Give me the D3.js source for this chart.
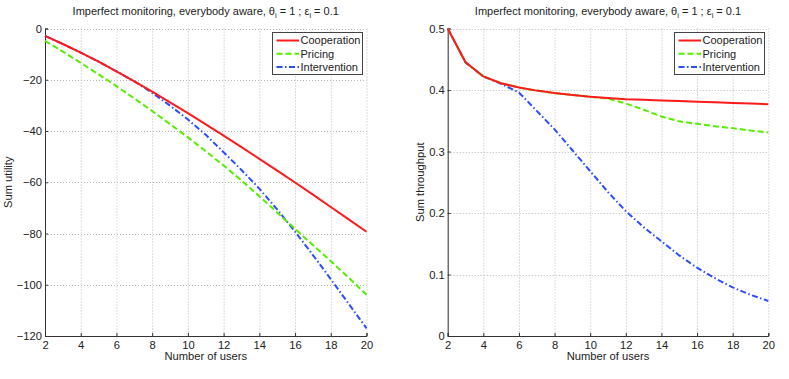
<!DOCTYPE html>
<html>
<head>
<meta charset="utf-8">
<script src="https://cdn.jsdelivr.net/npm/d3@7"></script>
<style>
  body { margin: 0; background: #fff; }
  svg { display: block; font-family: "Liberation Sans", Arial, Helvetica, sans-serif; }
</style>
</head>
<body>
<svg id="chart" width="789" height="379"></svg>
<script>
// values, one point per number of users
const users = [2, 3, 4, 5, 6, 7, 8, 9, 10, 11, 12, 13, 14, 15, 16, 17, 18, 19, 20]

const coopUtility = [-2.9, -6.05, -9.4, -12.95, -16.7, -20.6, -24.65, -28.8, -33.05, -37.4,
    -41.8, -46.3, -50.85, -55.45, -60.1, -64.85, -69.65, -74.5, -79.3]
const pricingUtility = [-4.8, -9.0, -13.4, -17.9, -22.5, -27.3, -32.2, -37.3, -42.5, -47.9,
    -53.5, -59.3, -65.5, -71.8, -78.2, -84.5, -90.8, -97.2, -103.9]
const interventionUtility = [-2.9, -6.05, -9.4, -12.95, -16.7, -20.6, -25.1, -30.1, -35.5, -41.5,
    -48.3, -55.2, -62.5, -70.6, -79.3, -88.4, -97.8, -107.4, -117.0]

const coopThroughput = [0.5, 0.445, 0.422, 0.411, 0.404, 0.399, 0.395, 0.392, 0.389, 0.387,
    0.385, 0.384, 0.383, 0.382, 0.381, 0.380, 0.379, 0.378, 0.377]
const pricingThroughput = [0.5, 0.445, 0.422, 0.411, 0.404, 0.399, 0.395, 0.392, 0.389, 0.386,
    0.378, 0.368, 0.357, 0.349, 0.345, 0.341, 0.338, 0.334, 0.331]
const interventionThroughput = [0.5, 0.445, 0.422, 0.410, 0.396, 0.366, 0.336, 0.302, 0.268, 0.234,
    0.203, 0.177, 0.154, 0.131, 0.111, 0.094, 0.079, 0.067, 0.057]

const seriesNames = ["Cooperation", "Pricing", "Intervention"]
const xTicks = [2, 4, 6, 8, 10, 12, 14, 16, 18, 20]
const utilityTicks = [0, -20, -40, -60, -80, -100, -120]
const throughputTicks = [0, 0.1, 0.2, 0.3, 0.4, 0.5]

const styles = [
    {color: "#ff1a1a", dash: null},
    {color: "#55ee00", dash: "6,3"},
    {color: "#2a4dff", dash: "6,2.5,1.5,2.5"},
]

const plotTop = 28.5
const plotBottom = 336

const svg = d3.select("#chart")

function drawPanel(opts) {
    let x = d3.scaleLinear().domain([2, 20]).range([opts.left, opts.right])
    let y = d3.scaleLinear().domain(opts.yDomain).range([plotBottom, plotTop])
    let g = svg.append("g")

    // dotted grid, which also closes the box on top and right
    g.append("g")
        .selectAll("line")
        .data(xTicks)
        .join("line")
            .attr("x1", d => x(d) + 0.5)
            .attr("x2", d => x(d) + 0.5)
            .attr("y1", plotTop)
            .attr("y2", plotBottom)
            .attr("stroke", "#b8b8b8")
            .attr("stroke-dasharray", "1,2")
    g.append("g")
        .selectAll("line")
        .data(opts.yTicks)
        .join("line")
            .attr("x1", opts.left)
            .attr("x2", opts.right)
            .attr("y1", d => Math.round(y(d)) + 0.5)
            .attr("y2", d => Math.round(y(d)) + 0.5)
            .attr("stroke", "#b8b8b8")
            .attr("stroke-dasharray", "1,2")

    let xAxis = g.append("g")
        .attr("transform", `translate(0,${plotBottom})`)
        .call(d3.axisBottom(x).tickValues(xTicks).tickSize(-3).tickPadding(5).tickFormat(d3.format("d")))
    let yAxis = g.append("g")
        .attr("transform", `translate(${opts.left},0)`)
        .call(d3.axisLeft(y).tickValues(opts.yTicks).tickSize(-3).tickPadding(3).tickFormat(opts.format))
    for (let ax of [xAxis, yAxis]) {
        ax.select(".domain").attr("stroke", "#333")
        ax.selectAll(".tick line").attr("stroke", "#333")
        ax.selectAll("text").attr("font-size", 11.2).attr("fill", "#222")
        ax.attr("font-family", null)
    }

    let line = d3.line()
        .x((d, i) => x(users[i]))
        .y(d => y(d))
    // draw intervention first so the other two sit on top where they overlap
    let order = [2, 1, 0]
    for (let k of order) {
        g.append("path")
            .datum(opts.series[k])
            .attr("fill", "none")
            .attr("stroke", styles[k].color)
            .attr("stroke-width", 2)
            .attr("stroke-dasharray", styles[k].dash)
            .attr("d", line)
    }

    // title with subscripts
    let title = g.append("text")
        .attr("x", (opts.left + opts.right) / 2)
        .attr("y", 15)
        .attr("text-anchor", "middle")
        .attr("font-size", 11)
        .attr("fill", "#222")
    title.append("tspan").text("Imperfect monitoring, everybody aware, \u03b8")
    title.append("tspan").attr("font-size", 7.5).attr("dy", 3).text("i")
    title.append("tspan").attr("dy", -3).text(" = 1 ; \u03b5")
    title.append("tspan").attr("font-size", 7.5).attr("dy", 3).text("i")
    title.append("tspan").attr("dy", -3).text(" = 0.1")

    g.append("text")
        .attr("x", (opts.left + opts.right) / 2)
        .attr("y", 360)
        .attr("text-anchor", "middle")
        .attr("font-size", 11.2)
        .attr("fill", "#222")
        .text("Number of users")
    g.append("text")
        .attr("transform", `translate(${opts.labelX},${(plotTop + plotBottom) / 2}) rotate(-90)`)
        .attr("text-anchor", "middle")
        .attr("font-size", 11.2)
        .attr("fill", "#222")
        .text(opts.yLabel)

    // legend
    let lg = g.append("g").attr("transform", `translate(${opts.legendX},32)`)
    lg.append("rect")
        .attr("x", 0.5)
        .attr("y", 0.5)
        .attr("width", 90)
        .attr("height", 42)
        .attr("fill", "#fff")
        .attr("stroke", "#444")
    let item = lg.selectAll("g.item")
        .data(seriesNames)
        .join("g")
            .classed("item", true)
            .attr("transform", (d, i) => `translate(0,${8.5 + i * 13.3})`)
    item.append("line")
        .attr("x1", 4.5)
        .attr("x2", 27)
        .attr("stroke", (d, i) => styles[i].color)
        .attr("stroke-width", 2)
        .attr("stroke-dasharray", (d, i) => styles[i].dash)
    item.append("text")
        .attr("x", 28.5)
        .attr("dy", "0.36em")
        .attr("font-size", 11)
        .attr("fill", "#222")
        .text(d => d)
}

drawPanel({
    left: 45, right: 366.5, yDomain: [-120, 0], yTicks: utilityTicks,
    format: d3.format("d"), yLabel: "Sum utility", labelX: 12,
    series: [coopUtility, pricingUtility, interventionUtility], legendX: 272,
})
drawPanel({
    left: 447.7, right: 768.3, yDomain: [0, 0.5], yTicks: throughputTicks,
    format: d => d === 0 ? "0" : d3.format(".1f")(d), yLabel: "Sum throughput", labelX: 424,
    series: [coopThroughput, pricingThroughput, interventionThroughput], legendX: 674,
})
</script>
</body>
</html>
